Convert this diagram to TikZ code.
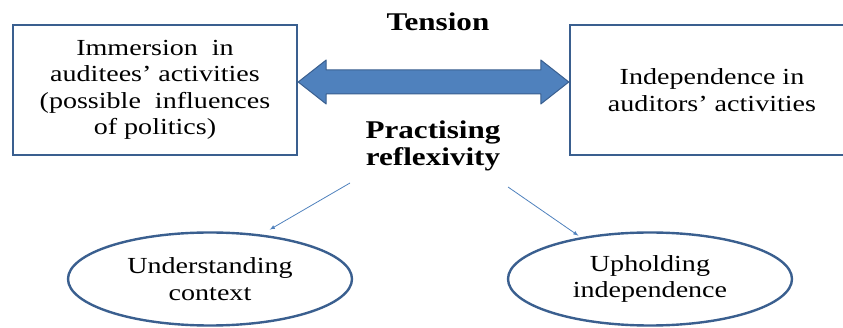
\documentclass[tikz,border=0pt]{standalone}
\usepackage{fontspec}
\setmainfont{Liberation Serif}[FakeStretch=1.22]
\usepackage{tikz}
\usetikzlibrary{shapes.geometric}
\usetikzlibrary{calc}

\definecolor{edgeblue}{HTML}{3A5F8F}
\definecolor{fillblue}{HTML}{4F81BD}

\begin{document}
\begin{tikzpicture}[x=1pt, y=-1pt,
            txt/.style={align=center, font=\fontsize{23}{26.5}\selectfont},
            bold/.style={align=center, font=\fontsize{25.5}{27}\selectfont\bfseries},
            sidebox/.style={txt, draw=edgeblue, line width=2.4pt, minimum width=284pt, minimum height=130pt, inner sep=0pt},
            oval/.style={txt, ellipse, draw=edgeblue, line width=2.4pt, minimum width=284pt, minimum height=93pt, inner sep=0pt},
            thinarrow/.style={draw=fillblue, line width=0.8pt, -latex}]
            \useasboundingbox (0, 0) rectangle (843, 328);
            \clip (0, 0) rectangle (843, 328);
        
            \node[sidebox] (imm) at (155, 90) {Immersion~ in\\auditees' activities\\(possible~ influences\\of politics)};
            \node[sidebox] (ind) at (712, 90) {Independence in\\auditors' activities};
        
            \coordinate (tl) at ([yshift=8pt]imm.east);
            \coordinate (tr) at ([yshift=8pt]ind.west);
            \filldraw[fill=fillblue, draw=edgeblue, line width=1pt, line join=round]
                (tl) -- ++(28, -22) -- ++(0, 10) -- ($(tr)+(-28, -12)$) -- ++(0, -10) -- (tr)
                -- ++(-28, 22) -- ++(0, -10) -- ($(tl)+(28, 12)$) -- ++(0, 10) -- cycle;
        
            \node[bold] (ten) at (438, 22) {Tension};
            \node[bold] (refl) at (433, 146) {Practising\\reflexivity};
        
            \node[oval] (und) at (210, 279) {Understanding\\context};
            \node[oval] (uph) at (650, 279) {Upholding\\independence};
        
            \coordinate (sl) at (350, 183);
            \coordinate (sr) at (508, 187);
            \draw[thinarrow] (sl) -- ($(und.36)+(0, -6)$);
            \draw[thinarrow] (sr) -- ($(uph.150)+(0, -2)$);
        
        \end{tikzpicture}
\end{document}
